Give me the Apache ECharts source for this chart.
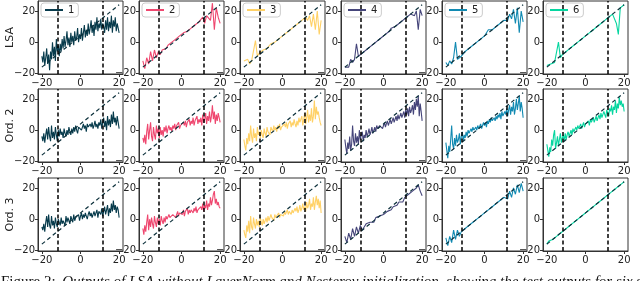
<!DOCTYPE html>
<html>
<head>
<meta charset="utf-8">
<script src="https://cdn.jsdelivr.net/npm/echarts@6/dist/echarts.min.js"></script>
<style>
html,body{margin:0;padding:0;background:#fff;}
#chart{width:640px;height:281px;}
</style>
</head>
<body>
<div id="chart"></div>
<script>
// ---------- data ----------
const xs = [-20,-19,-18,-17,-16,-15,-14,-13,-12,-11,-10,-9,-8,-7,-6,-5,-4,-3,-2,-1,0,1,2,3,4,5,6,7,8,9,10,11,12,13,14,15,16,17,18,19,20];
const xsFine = [-20,-19.5,-19,-18.5,-18,-17.5,-17,-16.5,-16,-15.5,-15,-14.5,-14,-13.5,-13,-12.5,-12,-11.5,-11,-10.5,-10,-9.5,-9,-8.5,-8,-7.5,-7,-6.5,-6,-5.5,-5,-4.5,-4,-3.5,-3,-2.5,-2,-1.5,-1,-0.5,0,0.5,1,1.5,2,2.5,3,3.5,4,4.5,5,5.5,6,6.5,7,7.5,8,8.5,9,9.5,10,10.5,11,11.5,12,12.5,13,13.5,14,14.5,15,15.5,16,16.5,17,17.5,18,18.5,19,19.5,20];
const rowNames = ['LSA', 'Ord. 2', 'Ord. 3'];
const seriesNames = ['1', '2', '3', '4', '5', '6'];
const xTicks = [-20, 0, 20];
const yTicks = [-20, 0, 20];
const diagX = [-20, 20];
const diagY = [-16, 24];
const vLines = [-11.7, 11.7];
const captionHead = 'Figure 2:';
const caption = 'Outputs of LSA without LayerNorm and Nesterov initialization, showing the test outputs for six seeds';

// row 1: LSA
const lsa1 = [-9,-13,-6,-15,-10,-4,-14,-8,-18,-6, -11,0,-9,-3,-12,2,-6,-2,-9,-1, -6,2,-4,4,-3,1,7,-2,3,-3, 6,0,4,-2,7,1,3,9,0,5, 2,9,1,6,11,3,8,4,12,5, 9,14,6,11,4,13,8,16,7,12, 9,15,8,12,10,6,14,8,16,7, 13,9,17,6,14,10,16,7,12,9, 6];
const lsa2 = [-12,-17,-10,-14,-6,-12,-5,-10,-6,-8,-5,-4,-4,-2,-2,0,0,2,2,4,4,6,5,7,8,9,9,11,12,13,13,16,12,17,18,14,25,8,22,16,12];
const lsa3 = [-12,-13,-11,-14,-12,-12,1,-9,-7,-7,-5,-5,-4,-3,-1,-1,0,1,2,3,4,5,6,7,8,9,10,11,12,13,14,15,16,14,17,10,18,8,20,5,14];
const lsa4 = [-16,-15,-16,-11,-13,-11,-1,-9,-8,-7,-6,-5,-4,-3,-2,-1,0,1,2,3,4,5,6,7,9,8,10,11,12,13,14,15,16,17,18,19,17,20,8,21,17];
const lsa5 = [-13,-15,-12,-14,-10,0,-11,-10,-9,-8,-6,-5,-4,-3,-2,-1,0,1,2,3,4,5,8,7,8,9,10,11,12,13,14,15,14,18,15,21,12,22,6,20,13];
const lsa6 = [-15,-16,-14,-13,-13,-12,0,-10,-8,-7,-6,-5,-4,-3,-2,-1,0,1,2,3,4,5,6,7,8,9,10,11,12,13,14,15,16,17,18,19,12,5,22,23,24];
// row 2: Ord. 2
const ord2_1 = [-4,-7,-2,-8,-3,1,-6,2,-4,-7, 3,-5,-1,-6,2,-3,-7,0,-4,1, -3,-1,-5,1,-2,-4,0,-3,2,-1, -3,1,-2,2,-1,3,0,-2,2,1, 3,0,2,4,1,3,-1,4,2,1, 4,2,5,1,3,6,2,4,1,5, 3,7,1,5,8,2,6,0,9,3, 7,2,10,4,12,5,8,3,9,5, 1];
const ord2_2 = [-5,-8,-3,-9,-1,4,-6,0,5,-4, -7,2,-3,-6,3,-2,1,-5,2,-3, 0,-4,2,-1,3,-2,1,3,0,2, -1,3,1,4,0,3,2,5,1,3, 4,2,5,3,6,2,5,4,7,3, 6,4,8,3,6,5,9,4,7,5, 8,3,10,5,7,11,4,9,6,12, 5,9,16,7,12,4,10,6,11,8, 5];
const ord2_3 = [-6,-10,-13,-5,-9,-2,-7,3,-4,-8, 1,-5,-2,-7,2,-3,-1,-5,0,-3, -5,1,-2,-4,2,-1,0,-3,2,1, -1,3,0,2,-1,3,1,4,0,2, 3,1,4,2,5,1,4,3,6,2, 5,3,7,4,2,6,3,8,5,4, 9,3,7,11,4,8,13,5,10,6, 14,5,9,19,7,15,10,12,8,5, 3];
const ord2_4 = [-6,-11,-15,-8,-12,-4,-13,-9,3,-7, -10,-2,-8,-4,-9,0,-6,-3,-1,-7, -3,-5,0,-4,-2,1,-3,-1,2,-2, 0,2,-1,3,1,0,3,2,4,1, 3,5,2,4,6,3,5,7,4,6, 8,5,7,9,6,10,7,9,11,8, 10,12,8,13,10,14,9,15,11,13, 16,10,18,13,20,15,22,9,17,12, 6];
const ord2_5 = [-8,-13,-18,-10,-14,-6,3,-9,-12,-5, -10,-3,-8,-6,-2,-9,-4,-1,-7,-3, -5,-1,-4,0,-2,-3,1,-1,2,0, -1,2,0,3,1,2,4,1,3,5, 3,5,2,6,4,7,5,8,6,5, 8,6,9,7,10,8,11,7,12,9, 8,12,10,14,9,13,16,10,15,12, 18,10,14,20,13,17,22,12,18,14, 8];
const ord2_6 = [-9,-13,-17,-11,-14,-6,-10,-3,0,-12, -8,-4,-10,-6,-2,-8,-5,-3,-7,-2, -6,-3,-1,-4,-2,0,-3,1,-1,0, 2,0,3,1,2,4,1,3,5,2, 4,3,5,6,3,7,5,6,8,5, 7,9,6,8,10,7,11,8,9,12, 10,8,13,11,9,14,12,16,10,15, 13,19,11,17,14,21,16,19,15,17, 12];
// row 3: Ord. 3
const ord3_1 = [-5,-7,-3,-8,-2,2,-5,3,-4,-6, 2,-4,-1,-6,1,-3,-5,0,-2,-4, 1,-3,-1,0,-4,2,-2,1,-1,-3, 2,0,-2,3,-1,1,2,0,3,-1, 2,4,0,3,1,4,2,0,3,5, 2,4,1,3,5,2,4,6,1,5, 6,3,7,2,5,8,3,6,9,2, 7,4,10,5,12,6,9,4,8,6, 1];
const ord3_2 = [-6,-10,-4,-8,-2,3,-7,0,-5,1, -3,-6,2,-2,-5,1,-3,0,-4,2, -1,-3,1,-2,2,0,-1,3,1,2, 0,3,2,4,1,3,5,2,4,3, 5,3,6,2,5,4,7,3,6,4, 6,5,4,7,5,8,4,6,7,5, 8,6,10,5,9,7,12,6,10,8, 14,9,12,16,18,10,13,9,11,8, 7];
const ord3_3 = [-7,-10,-12,-4,-8,-1,-9,2,-5,-7, 1,-3,-6,0,-4,-1,-5,1,-2,-4, 0,-3,-1,1,-2,2,-1,0,3,1, 2,-1,3,1,0,2,4,1,3,2, 4,2,5,3,2,6,3,5,4,3, 6,4,3,7,5,8,4,6,9,5, 7,10,6,8,5,11,7,9,13,6, 10,8,14,6,11,15,9,13,7,12, 4];
const ord3_4 = [-11,-15,-9,-13,-6,-11,-5,-9,-4,-7,-5,-3,-4,-2,-1,-2,1,0,2,1,3,4,5,6,6,8,9,9,11,12,11,14,13,16,15,18,17,20,22,18,15];
const ord3_5 = [-12,-17,-11,-15,-7,-13,-7,-11,-8,-7,-6,-5,-4,-3,-2,-1,0,1,2,3,4,5,6,7,8,9,10,11,12,13,14,15,13,18,14,20,16,22,17,23,18];
const ord3_6 = [-16,-14,-14,-13,-12,-11,-10,-9,-8,-7,-6,-5,-4,-3,-2,-1,0,1,2,3,4,5,6,7,8,9,10,11,12,13,14,15,16,17,18,19,20,21,22,23,24];

const panels = [
  [[xsFine, lsa1], [xs, lsa2], [xs, lsa3], [xs, lsa4], [xs, lsa5], [xs, lsa6]],
  [[xsFine, ord2_1], [xsFine, ord2_2], [xsFine, ord2_3], [xsFine, ord2_4], [xsFine, ord2_5], [xsFine, ord2_6]],
  [[xsFine, ord3_1], [xsFine, ord3_2], [xsFine, ord3_3], [xs, ord3_4], [xs, ord3_5], [xs, ord3_6]]
];

// ---------- styling ----------
const colors = ['#073b4c', '#ef476f', '#ffd166', '#45457a', '#118ab2', '#06d6a0'];
const colLeft = [38, 139, 240, 341, 442, 543];
const rowTop = [1, 89, 178];
const panelW = 85, panelH = 73;
const axisColor = '#333';
const fontFam = 'DejaVu Sans';

function fmt(v) { return v < 0 ? '\u2212' + Math.abs(v) : String(v); }

const grids = [], xAxes = [], yAxes = [], series = [], legends = [];
for (let r = 0; r < 3; r++) {
  for (let c = 0; c < 6; c++) {
    const i = r * 6 + c;
    grids.push({
      left: colLeft[c], top: rowTop[r], width: panelW, height: panelH,
      show: true, borderColor: axisColor, borderWidth: 1, backgroundColor: '#fff'
    });
    xAxes.push({
      type: 'value', gridIndex: i, min: -22, max: 22,
      axisLine: { show: true, onZero: false, lineStyle: { color: axisColor, width: 1 } },
      axisTick: { show: true, length: 3, customValues: xTicks, lineStyle: { color: axisColor } },
      axisLabel: { customValues: xTicks, formatter: fmt, fontSize: 10, color: '#222', margin: 4, fontFamily: fontFam },
      splitLine: { show: false }
    });
    yAxes.push({
      type: 'value', gridIndex: i, min: -20.4, max: 26.4,
      axisLine: { show: true, onZero: false, lineStyle: { color: axisColor, width: 1 } },
      axisTick: { show: true, length: 3, customValues: yTicks, lineStyle: { color: axisColor } },
      axisLabel: { customValues: yTicks, formatter: fmt, fontSize: 10, color: '#222', margin: 3, fontFamily: fontFam },
      splitLine: { show: false }
    });
    const px = panels[r][c][0], py = panels[r][c][1];
    series.push({
      type: 'line', name: seriesNames[c], xAxisIndex: i, yAxisIndex: i,
      data: px.map((x, k) => [x, py[k]]),
      symbol: 'none', showSymbol: false, z: 2,
      lineStyle: { color: colors[c], width: 1.1 }, itemStyle: { color: colors[c] }
    });
    series.push({
      type: 'line', name: 'diag' + i, xAxisIndex: i, yAxisIndex: i,
      data: diagX.map((x, k) => [x, diagY[k]]),
      symbol: 'none', showSymbol: false, z: 3, silent: true,
      lineStyle: { color: '#0b2f3a', width: 1.2, type: [4, 3] },
      markLine: {
        symbol: ['none', 'none'], silent: true, label: { show: false },
        lineStyle: { color: '#000', width: 1.5, type: [4, 2.5] },
        data: vLines.map(v => ({ xAxis: v }))
      }
    });
  }
}
for (let c = 0; c < 6; c++) {
  legends.push({
    data: [seriesNames[c]], left: colLeft[c] + 3, top: 3, orient: 'horizontal',
    selectedMode: false, icon: 'rect', itemWidth: 18, itemHeight: 2, itemGap: 5,
    backgroundColor: '#fff', borderColor: '#cccccc', borderWidth: 1, borderRadius: 3,
    padding: [2, 4], textStyle: { fontSize: 10, color: '#222', fontFamily: fontFam }
  });
}

const graphics = rowNames.map((name, r) => ({
  type: 'text', x: 10, y: rowTop[r] + panelH / 2, rotation: Math.PI / 2,
  style: { text: name, fontSize: 11, fontFamily: fontFam, fill: '#222', align: 'center', verticalAlign: 'middle' }
}));
graphics.push({
  type: 'text', x: 1, y: 275,
  style: {
    text: '{a|' + captionHead + '}  {b|' + caption + '}',
    fill: '#111', verticalAlign: 'top',
    rich: {
      a: { fontFamily: 'Liberation Serif', fontSize: 15, fill: '#111' },
      b: { fontFamily: 'Liberation Serif', fontSize: 15, fontStyle: 'italic', fill: '#111' }
    }
  }
});

const chart = echarts.init(document.getElementById('chart'), null, { renderer: 'canvas' });
chart.setOption({
  animation: false,
  backgroundColor: '#fff',
  grid: grids, xAxis: xAxes, yAxis: yAxes,
  legend: legends, series: series, graphic: graphics
});
</script>
</body>
</html>
